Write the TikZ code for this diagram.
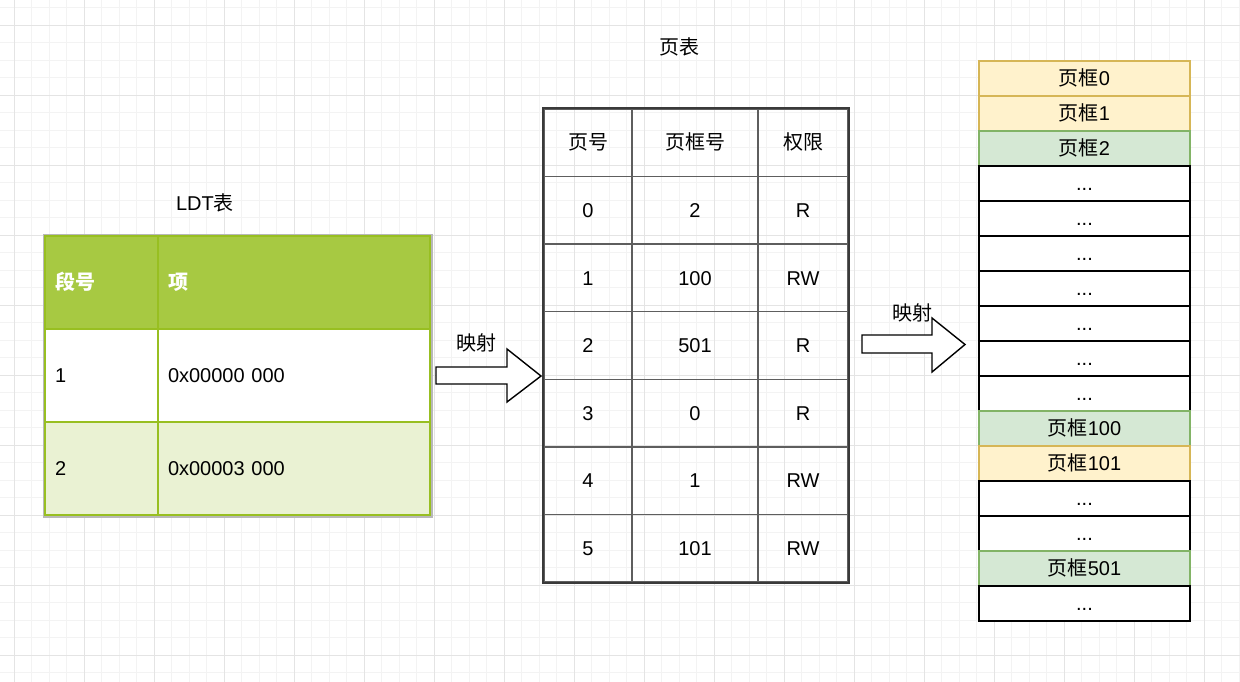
\documentclass[tikz,border=0pt]{standalone}
\usepackage{fontspec}
\setmainfont{Liberation Sans}
\newfontfamily\cjk{Noto Sans CJK SC}
\definecolor{ldthead}{HTML}{A7C942}
\definecolor{ldtalt}{HTML}{EAF2D3}
\definecolor{ldtborder}{HTML}{98BF21}
\definecolor{ldtout}{HTML}{B8B8B8}
\definecolor{ptouter}{HTML}{3A3A3A}
\definecolor{ptinner}{HTML}{5E5E5E}
\definecolor{yfill}{HTML}{FFF2CC}
\definecolor{ydraw}{HTML}{D6B656}
\definecolor{gfill}{HTML}{D5E8D4}
\definecolor{gdraw}{HTML}{82B366}
\definecolor{gridminor}{HTML}{F3F3F3}
\definecolor{gridmajor}{HTML}{E4E4E4}
\tikzset{
  minorgrid/.style={draw=gridminor, line width=0.8pt},
  majorgrid/.style={draw=gridmajor, line width=0.8pt},
  txt/.style={font=\fontsize{20}{24}\selectfont, text height=14.3pt, text depth=0pt},
  ldtc/.style={txt, draw=ldtborder, line width=1.5pt, minimum height=93pt, inner xsep=10pt, inner ysep=0pt, align=left},
  ptc/.style={txt, draw=ptinner, line width=1.5pt, minimum height=67.57pt, inner sep=0pt},
  framebox/.style={txt, draw=black, line width=1.7pt, fill=white, minimum width=211pt, minimum height=35pt, inner sep=0pt},
  yframe/.style={framebox, fill=yfill, draw=ydraw},
  gframe/.style={framebox, fill=gfill, draw=gdraw},
  blockarrow/.style={draw=black, line width=1.4pt, fill=white, line join=miter},
  title/.style={txt, inner sep=0pt}
}
\begin{document}
\begin{tikzpicture}[x=1pt,y=-1pt]
\useasboundingbox (0,0) rectangle (1240,682);
\fill[white] (0,0) rectangle (1240,682);
% background grid
\foreach \x in {-3.5,14,...,1241} \draw[minorgrid] (\x,0) -- (\x,682);
\foreach \y in {7.5,25,...,683} \draw[minorgrid] (0,\y) -- (1240,\y);
\foreach \x in {14,84,...,1241} \draw[majorgrid] (\x,0) -- (\x,682);
\foreach \y in {25,95,...,683} \draw[majorgrid] (0,\y) -- (1240,\y);

% ---------------- LDT table ----------------
\node[title] (ldttitle) at (205,203) {LDT{\cjk 表}};
\draw[ldtout, line width=2pt] (43.5,234.5) rectangle (431.5,516.5);
\node[ldtc, fill=ldthead, text width=93pt, text=white] (l00) at (101.5,282.5) {\cjk\bfseries 段号};
\node[ldtc, fill=ldthead, text width=252pt, text=white] (l01) at (294,282.5) {\cjk\bfseries 项};
\node[ldtc, fill=white, text width=93pt] (l10) at (101.5,375.5) {1};
\node[ldtc, fill=white, text width=252pt] (l11) at (294,375.5) {0x00000 000};
\node[ldtc, fill=ldtalt, text width=93pt] (l20) at (101.5,468.5) {2};
\node[ldtc, fill=ldtalt, text width=252pt] (l21) at (294,468.5) {0x00003 000};

% ---------------- arrow 1 ----------------
\draw[blockarrow] (436,367) -- (507,367) -- (507,349) -- (541,376) -- (507,402) -- (507,384) -- (436,384) -- cycle;
\node[title] (map1) at (476.5,343) {\cjk 映射};

% ---------------- page table ----------------
\node[title] (pttitle) at (679,47) {\cjk 页表};
\node[ptc, minimum width=88pt] (p0a) at (588,142.8) {\cjk 页号};
\node[ptc, minimum width=126pt] (p0b) at (695,142.8) {\cjk 页框号};
\node[ptc, minimum width=90pt] (p0c) at (803,142.8) {\cjk 权限};
\foreach \a/\b/\c [count=\i] in {0/2/R, 1/100/RW, 2/501/R, 3/0/R, 4/1/RW, 5/101/RW} {
  \pgfmathsetmacro\yy{142.8+67.57*\i}
  \node[ptc, minimum width=88pt] (p\i a) at (588,\yy) {\a};
  \node[ptc, minimum width=126pt] (p\i b) at (695,\yy) {\b};
  \node[ptc, minimum width=90pt] (p\i c) at (803,\yy) {\c};
}
\draw[ptouter, line width=2pt] (p0a.north west) rectangle (p6c.south east);

% ---------------- arrow 2 ----------------
\draw[blockarrow] (862,335) -- (932,335) -- (932,318) -- (965,344.5) -- (932,372) -- (932,353) -- (862,353) -- cycle;
\node[title] (map2) at (912.5,313.5) {\cjk 映射};

% ---------------- page frames ----------------
\node[yframe] (f0) at (1084.5,78.5) {{\cjk 页框}0};
\node[yframe] (f1) at (1084.5,113.5) {{\cjk 页框}1};
\node[gframe] (f2) at (1084.5,148.5) {{\cjk 页框}2};
\node[framebox] (f3) at (1084.5,183.5) {...};
\node[framebox] (f4) at (1084.5,218.5) {...};
\node[framebox] (f5) at (1084.5,253.5) {...};
\node[framebox] (f6) at (1084.5,288.5) {...};
\node[framebox] (f7) at (1084.5,323.5) {...};
\node[framebox] (f8) at (1084.5,358.5) {...};
\node[framebox] (f9) at (1084.5,393.5) {...};
\node[gframe] (f10) at (1084.5,428.5) {{\cjk 页框}100};
\node[yframe] (f11) at (1084.5,463.5) {{\cjk 页框}101};
\node[framebox] (f12) at (1084.5,498.5) {...};
\node[framebox] (f13) at (1084.5,533.5) {...};
\node[gframe] (f14) at (1084.5,568.5) {{\cjk 页框}501};
\node[framebox] (f15) at (1084.5,603.5) {...};
\end{tikzpicture}
\end{document}
